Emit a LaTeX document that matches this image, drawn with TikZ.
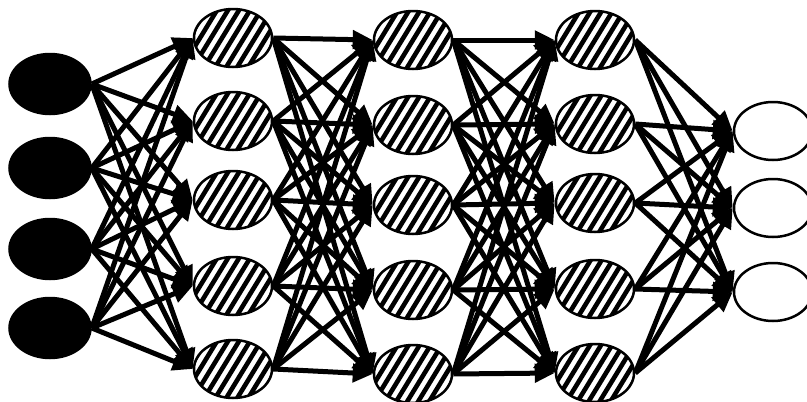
\documentclass[tikz,border=0pt]{standalone}
\usetikzlibrary{shapes.geometric,arrows.meta}
\pgfdeclarelayer{background}
\pgfsetlayers{background,main}
\begin{document}
\begin{tikzpicture}[x=1pt,y=-1pt,
  neuron/.style={ellipse, inner sep=0pt, minimum width=78pt, minimum height=58pt, line width=2.5pt, draw=black},
  inneuron/.style={neuron, fill=black, minimum width=81pt, minimum height=60pt},
  hidneuron/.style={neuron, fill=white, path picture={
      \foreach \k in {-7,...,7}
        \draw[line width=4.6pt] ([shift={(\k*11-22,36)}]path picture bounding box.center)
                              -- ([shift={(\k*11+22,-36)}]path picture bounding box.center);}},
  outneuron/.style={neuron, fill=white},
  link/.style={line width=5pt, -{Triangle[length=20pt,width=18pt]}}]
\useasboundingbox (0,0) rectangle (807,402);
% input layer
\foreach \y [count=\i] in {84,168,249,328}
  \node[inneuron] (i\i) at (50,\y) {};
% hidden layer 1
\foreach \y [count=\i] in {38,121,200,286,369}
  \node[hidneuron] (a\i) at (233,\y) {};
% hidden layer 2
\foreach \y [count=\i] in {40,125,205,290,374}
  \node[hidneuron] (b\i) at (413,\y) {};
% hidden layer 3
\foreach \y [count=\i] in {40,124,203,289,373}
  \node[hidneuron] (c\i) at (595,\y) {};
% output layer
\foreach \y [count=\i] in {131,208,292}
  \node[outneuron] (o\i) at (773,\y) {};
\begin{pgfonlayer}{background}
\foreach \s in {1,...,4}
  \foreach \t in {1,...,5}
    \draw[link] (i\s.east) -- (a\t.west);
\foreach \s in {1,...,5}
  \foreach \t in {1,...,5}
    \draw[link] (a\s.east) -- (b\t.west);
\foreach \s in {1,...,5}
  \foreach \t in {1,...,5}
    \draw[link] (b\s.east) -- (c\t.west);
\foreach \s in {1,...,5}
  \foreach \t in {1,...,3}
    \draw[link] (c\s.east) -- (o\t.west);
\end{pgfonlayer}
\end{tikzpicture}
\end{document}
